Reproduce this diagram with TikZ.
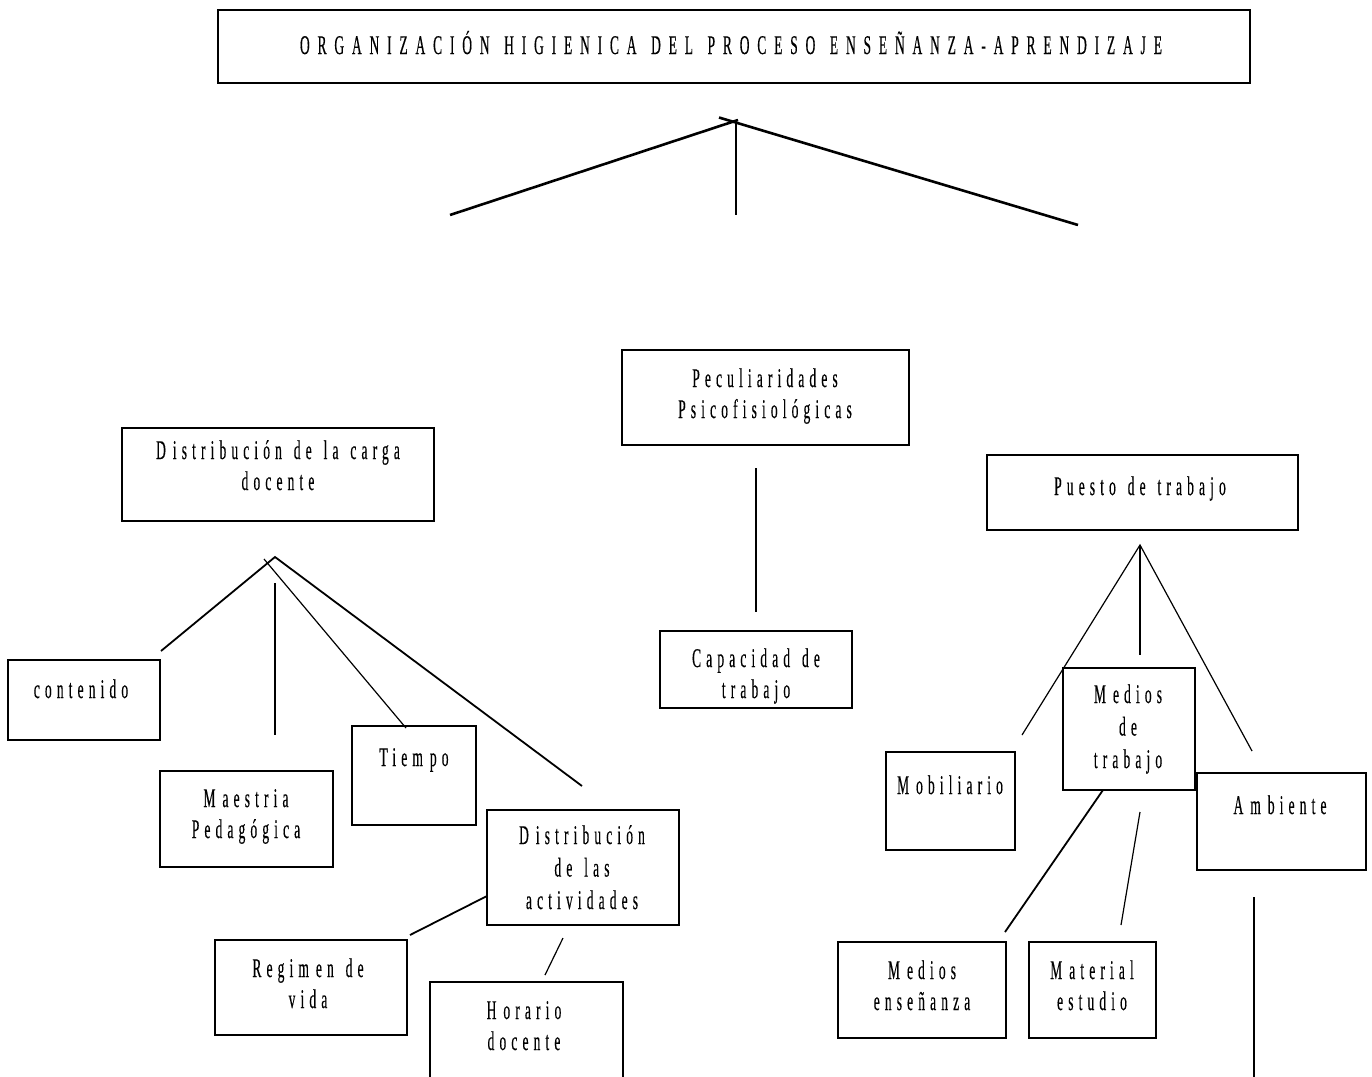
\documentclass[tikz,border=0pt]{standalone}
\usepackage{fontspec}
\setmainfont{Liberation Serif}[FakeStretch=0.5, LetterSpace=19, WordSpace=1.4, FakeBold=0.3]
\newfontfamily\headfont{Liberation Serif}[FakeStretch=0.5, LetterSpace=29, WordSpace=1.3, FakeBold=0.3]
\usetikzlibrary{fit}
\tikzset{
  box/.style={draw, line width=2pt, inner sep=0pt},
  lbl/.style={anchor=base, align=center, inner sep=0pt,
    font=\fontsize{27}{31}\selectfont},
  lbl3/.style={lbl, font=\fontsize{27}{32.5}\selectfont},
  link/.style={line width=1.8pt},
  thin link/.style={line width=1.2pt},
  heavy link/.style={line width=2.6pt}
}
\newcommand{\gapM}{\kern7pt}
\begin{document}
\begin{tikzpicture}[x=1pt, y=-1pt]
\useasboundingbox[fill=white] (0,0) rectangle (1372,1076);

% --- main heading ---
\node[box, fit={(218,10) (1250,83)}] (title) {};
\node[lbl, font=\headfont\fontsize{27}{31}\selectfont] (titletxt) at (731,54)
  {ORGANIZACIÓN HIGIENICA DEL PROCESO ENSEÑANZA-APRENDIZAJE};

% --- first-level branches ---
\coordinate (topL) at (738,120);
\coordinate (topR) at (719,117.5);
\coordinate (topM) at (736,120);
\coordinate (endL) at (450,215);
\coordinate (endM) at (736,215);
\coordinate (endR) at (1078,225);
\draw[heavy link] (endL) -- (topL);
\draw[heavy link] (topR) -- (endR);
\draw[thin link] (topM) -- (endM);

% --- centre column ---
\node[box, fit={(622,350) (909,445)}] (pecul) {};
\node[lbl] at (765,418) {Peculiaridades\\Psicofisiológicas};
\node[box, fit={(660,631) (852,708)}] (capac) {};
\node[lbl] at (756,698) {Capacidad de\\trabajo};
\coordinate (pecA) at (756,468);
\coordinate (pecB) at (756,612);
\draw[thin link] (pecA) -- (pecB);

% --- left column ---
\node[box, fit={(122,428) (434,521)}] (carga) {};
\node[lbl] at (278,490) {D\gapM istribución de la carga\\docente};

\node[box, fit={(8,660) (160,740)}] (contenido) {};
\node[lbl] at (81,698) {contenido};
\node[box, fit={(160,771) (333,867)}] (maestria) {};
\node[lbl] at (246,838) {M\gapM aestria\\Pedagógica};
\node[box, fit={(352,726) (476,825)}] (tiempo) {};
\node[lbl] at (414,766) {Tiem\gapM po};
\node[box, fit={(487,810) (679,925)}] (activ) {};
\node[lbl3] at (582,909) {D\gapM istribución\\de las\\actividades};
\node[box, fit={(215,940) (407,1035)}] (regimen) {};
\node[lbl] at (308,1008) {Regim\gapM en de\\vida};
\node[box, fit={(430,982) (623,1095)}] (horario) {};
\node[lbl] at (524,1050) {H\gapM orario\\docente};

\coordinate (cA) at (275,557);
\coordinate (cT) at (264,559);
\coordinate (cCont) at (161,651);
\coordinate (cV1) at (275,583);
\coordinate (cV2) at (275,735);
\coordinate (cTiem) at (406,728);
\coordinate (cAct) at (582,786);
\draw[link] (cCont) -- (cA) -- (cAct);
\draw[thin link] (cV1) -- (cV2);
\draw[thin link] (cT) -- (cTiem);

\coordinate (aR1) at (487,896);
\coordinate (aR2) at (410,935);
\coordinate (aH1) at (563,938);
\coordinate (aH2) at (545,975);
\draw[link] (aR1) -- (aR2);
\draw[thin link] (aH1) -- (aH2);

% --- right column ---
\node[box, fit={(987,455) (1298,530)}] (puesto) {};
\node[lbl] at (1140,495) {Puesto de trabajo};
\node[box, fit={(1063,668) (1195,790)}] (mediost) {};
\node[lbl3] at (1128,768) {M\gapM edios\\de\\trabajo};
\node[box, fit={(886,752) (1015,850)}] (mobil) {};
\node[lbl] at (950,794) {M\gapM obiliario};
\node[box, fit={(1197,773) (1366,870)}] (ambiente) {};
\node[lbl] at (1280,814) {A\gapM m\gapM biente};
\node[box, fit={(838,942) (1006,1038)}] (mediose) {};
\node[lbl] at (922,1010) {M\gapM edios\\enseñanza};
\node[box, fit={(1029,942) (1156,1038)}] (material) {};
\node[lbl] at (1092,1010) {M\gapM aterial\\estudio};

\coordinate (pA) at (1140,545);
\coordinate (pMob) at (1022,735);
\coordinate (pV) at (1140,655);
\coordinate (pAmb) at (1252,751);
\draw[thin link] (pMob) -- (pA) -- (pAmb);
\draw[thin link] (pA) -- (pV);

\coordinate (mA1) at (1103,790);
\coordinate (mA2) at (1005,932);
\coordinate (mB1) at (1140,812);
\coordinate (mB2) at (1121,925);
\draw[link] (mA1) -- (mA2);
\draw[thin link] (mB1) -- (mB2);

\coordinate (amb1) at (1254,897);
\coordinate (amb2) at (1254,1080);
\draw[thin link] (amb1) -- (amb2);
\end{tikzpicture}
\end{document}
